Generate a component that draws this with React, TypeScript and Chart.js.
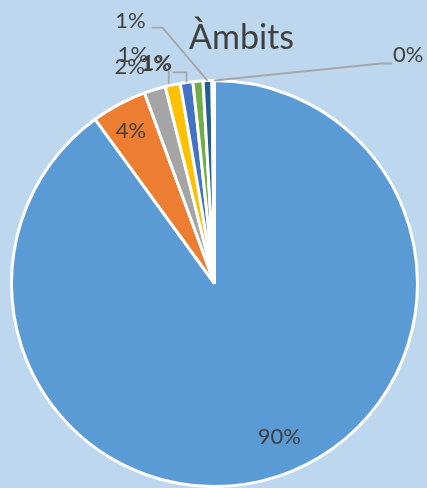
import React, { useEffect, useRef } from "react";
import { Chart, registerables } from "chart.js";

Chart.register(...registerables);

const TITLE = "Àmbits";
const CATEGORIES = ["A", "B", "C", "D", "E", "F", "G", "H"];
const VALUES = [90.0, 4.4, 1.7, 1.2, 1.0, 0.8, 0.7, 0.2];
const COLORS = ["#5B9BD5", "#ED7D31", "#A5A5A5", "#FFC000", "#4472C4", "#70AD47", "#255E91", "#9E480E"];

const BG = "#BDD7EE";
const TEXT = "#404040";
const LEADER = "#A6A6A6";
const FONT = "Lato, 'Open Sans', sans-serif";

// label placement relative to each slice's outer mid-point (style only)
const LABEL_LAYOUT: { dx: number; dy: number; line?: number[][] }[] = [
  { dx: 2, dy: -40 },
  { dx: 12, dy: 27 },
  { dx: -25, dy: -23 },
  { dx: -17, dy: -21, line: [[-4, -1], [-4, -14]] },
  { dx: -29.5, dy: -19.5, line: [[0, 0], [0, -10], [-14, -10]] },
  { dx: -65, dy: -26 },
  { dx: -77, dy: -60, line: [[0, 0], [-45, -53], [-56, -53]] },
  { dx: 195, dy: -26, line: [[1, 0], [168, -17], [179, -17]] },
];

const labelPlugin = {
  id: "excelLabels",
  afterDatasetsDraw(chart: any) {
    const ctx = chart.ctx;
    const meta = chart.getDatasetMeta(0);
    const data = chart.data.datasets[0].data as number[];
    const total = data.reduce((a, b) => a + b, 0);
    ctx.save();
    meta.data.forEach((arc: any, i: number) => {
      const p = arc.getProps(["x", "y", "startAngle", "endAngle", "outerRadius"], true);
      const mid = (p.startAngle + p.endAngle) / 2;
      const ox = p.x + Math.cos(mid) * p.outerRadius;
      const oy = p.y + Math.sin(mid) * p.outerRadius;
      const lay = LABEL_LAYOUT[i];
      if (lay.line) {
        ctx.strokeStyle = LEADER;
        ctx.lineWidth = 1.8;
        ctx.beginPath();
        lay.line.forEach((pt, k) => {
          if (k === 0) ctx.moveTo(ox + pt[0], oy + pt[1]);
          else ctx.lineTo(ox + pt[0], oy + pt[1]);
        });
        ctx.stroke();
      }
      const pct = Math.round((data[i] / total) * 100) + "%";
      ctx.fillStyle = TEXT;
      ctx.font = `22px ${FONT}`;
      ctx.textAlign = "center";
      ctx.textBaseline = "middle";
      ctx.fillText(pct, ox + lay.dx, oy + lay.dy);
    });
    ctx.font = `34px ${FONT}`;
    ctx.textAlign = "left";
    ctx.textBaseline = "alphabetic";
    ctx.fillStyle = TEXT;
    ctx.fillText(TITLE, 189, 49);
    ctx.restore();
  },
};

export default function App() {
  const ref = useRef<HTMLCanvasElement>(null);
  useEffect(() => {
    if (!ref.current) return;
    const chart = new Chart(ref.current, {
      type: "pie",
      data: {
        labels: CATEGORIES,
        datasets: [
          {
            data: VALUES,
            backgroundColor: COLORS,
            borderColor: "#FFFFFF",
            borderWidth: 3,
          },
        ],
      },
      options: {
        responsive: false,
        animation: false,
        layout: { padding: { left: 10, right: 8, top: 79, bottom: 0 } },
        plugins: {
          legend: { display: false },
          title: { display: false },
          tooltip: { enabled: false },
        },
      },
      plugins: [labelPlugin],
    });
    return () => chart.destroy();
  }, []);
  return (
    <div style={{ position: "fixed", left: 0, top: 0, width: 427, height: 488, background: BG }}>
      <canvas ref={ref} width={427} height={488} style={{ display: "block" }} />
    </div>
  );
}
